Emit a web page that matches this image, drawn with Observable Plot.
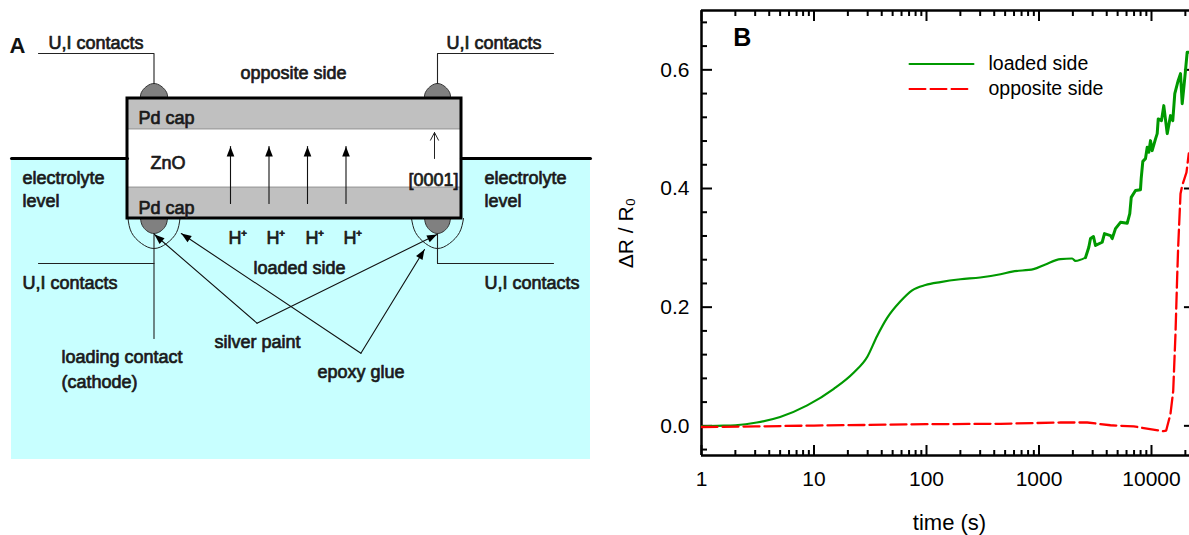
<!DOCTYPE html>
<html><head><meta charset="utf-8">
<script src="https://cdn.jsdelivr.net/npm/d3@7"></script>
<script src="https://cdn.jsdelivr.net/npm/@observablehq/plot@0.6"></script>
<style>
html,body{margin:0;padding:0;background:#fff;overflow:hidden}
#w{display:flex;width:1189px;height:535px}
#w svg{display:block;max-width:none;flex:none}
</style></head><body><div id="w"></div>
<script>
// Panel B series
const loadedT = [1,1.38,2,3.1,5,8.7,15,22.6,29.7,36.4,44.7,58.7,74.6,98,133,200,300,455,578,894,1142,1552,1972,2109,2590,2772,2870,3050,3178,3645,3821,4325,4477,4786,5300,6081,6412,6607,7211,7980,8098,8373,8845,9162,9465,9795,10140,10860,11240,11480,12270,12860,13800,14760,15460,16110,17260,18110,18750,19540,20050,20750,21460];
const loadedDR = [-0.001,0,0.001,0.0056,0.015,0.0345,0.0624,0.09,0.116,0.1515,0.182,0.21,0.2284,0.2373,0.2423,0.247,0.25,0.2555,0.26,0.264,0.272,0.281,0.282,0.278,0.2835,0.301,0.3156,0.319,0.304,0.3094,0.324,0.3206,0.3156,0.3324,0.343,0.3414,0.3577,0.385,0.3965,0.398,0.4167,0.4458,0.4504,0.4694,0.461,0.4807,0.4638,0.4836,0.4925,0.5173,0.5144,0.5397,0.4925,0.5228,0.5144,0.56,0.5818,0.5936,0.543,0.5767,0.5986,0.6295,0.6295];
const oppositeT = [1,3,10,30,100,455,1552,2680,4322,6950,12790,13510,14750,15600,16340,16910,17260,18110,18750,20460,21460];
const oppositeDR = [-0.002,-0.001,0.0005,0.0015,0.0028,0.0034,0.0056,0.0056,0.001,-0.001,-0.009,-0.008,0.02,0.059,0.155,0.25,0.301,0.391,0.405,0.427,0.459];
const xMajor = [1,10,100,1000,10000];
const xMinor = [2,3,4,5,6,7,8,9,20,30,40,50,60,70,80,90,200,300,400,500,600,700,800,900,2000,3000,4000,5000,6000,7000,8000,9000,20000];
const yMajor = [0,0.2,0.4,0.6];
const yMinor = [-0.04,0.04,0.08,0.12,0.16,0.24,0.28,0.32,0.36,0.44,0.48,0.52,0.56,0.64,0.68];
const legendNames = ["loaded side","opposite side"];
const legendX = [[70.6,261.6],[70.6,231]];
const legendY = [0.61,0.5675];

// Panel A schematic (drawing units = reference pixels)
const seaRect = {x1:11,x2:590,y1:158,y2:459};
const capBands = [{x1:127,x2:461,y1:98,y2:129},{x1:127,x2:461,y1:187,y2:218}];
const bodyRect = {x1:127,x2:461,y1:98,y2:218};
const levelLines = [[[11,158],[127,158]],[[461,158],[590,158]]];
const contactCaps = [
 [[140,98],[142,90],[153.5,83],[165,90],[167,98]],
 [[424,98],[426,90],[437,83],[448,90],[450,98]],
 [[140,218],[143,227],[153.5,233],[164,227],[167,218]],
 [[424,218],[427,227],[437,233],[447,227],[450,218]]
];
const epoxyArcs = [
 [[127.5,218],[131,232],[141,243],[153.5,248],[166,243],[176,232],[179.5,218]],
 [[411,218],[415,232],[425,243],[437,248],[449,243],[459,232],[463,218]]
];
const wires = [
 [[38,53],[153.5,53],[153.5,83]],
 [[553,53],[437,53],[437,83]],
 [[38,263],[153.5,263]],
 [[153.5,233],[153.5,338]],
 [[437,233],[437,263],[553,263]]
];
const pointerArrows = [
 [[256.5,322.7],[154,234]],
 [[256.5,322.7],[436.5,234]],
 [[360.4,352.7],[180.8,233]],
 [[360.4,352.7],[424,249]],
 [[230,203],[230,146]],
 [[268.5,203],[268.5,146]],
 [[307,203],[307,146]],
 [[345.5,203],[345.5,146]]
];
const openArrow = [[434,158],[434,132]];
const labelTexts = ["U,I contacts","U,I contacts","opposite side","Pd cap","ZnO","[0001]","electrolyte","level","electrolyte","level","Pd cap","H⁺","H⁺","H⁺","H⁺","loaded side","U,I contacts","U,I contacts","silver paint","loading contact","(cathode)","epoxy glue"];
const labelX = [48,446,240,138,150,408,22,22,484,484,138,228,266,305,343,253,22,484,214,61,61,317];
const labelY = [48,48,78,123,168,185,183,206,183,206,213,243,243,243,243,273,288,288,347,362,387,377];

function head([a,b],len=10,half=3.8){
  const dx=b[0]-a[0],dy=b[1]-a[1],n=Math.hypot(dx,dy),ux=dx/n,uy=dy/n;
  return [b,[b[0]-ux*len-uy*half,b[1]-uy*len+ux*half],[b[0]-ux*len+uy*half,b[1]-uy*len-ux*half]];
}
const tagged = (list)=>list.flatMap((pts,i)=>pts.map(p=>({x:p[0],y:p[1],k:i})));
const font = "'Liberation Sans',Arial,sans-serif";
const dark = "#222";
const labels = labelTexts.map((t,i)=>({t,x:labelX[i],y:labelY[i]}));

const left = Plot.plot({
  width:600,height:535,margin:0,
  x:{domain:[0,600],range:[0,600],axis:null},
  y:{domain:[0,535],range:[0,535],axis:null},
  style:{fontFamily:font,background:"#fff",color:"#000"},
  marks:[
    Plot.rect([seaRect],{x1:"x1",x2:"x2",y1:"y1",y2:"y2",fill:"#C8FFFF"}),
    Plot.line(tagged(contactCaps),{x:"x",y:"y",z:"k",curve:"natural",fill:"#808080",stroke:"#333",strokeWidth:1}),
    Plot.line(tagged(epoxyArcs),{x:"x",y:"y",z:"k",curve:"natural",stroke:dark,strokeWidth:1}),
    Plot.rect([bodyRect],{x1:"x1",x2:"x2",y1:"y1",y2:"y2",fill:"#fff"}),
    Plot.rect(capBands,{x1:"x1",x2:"x2",y1:"y1",y2:"y2",fill:"#C0C0C0",stroke:"#777",strokeWidth:.7}),
    Plot.line(tagged(levelLines),{x:"x",y:"y",z:"k",stroke:"#000",strokeWidth:3}),
    Plot.rect([bodyRect],{x1:"x1",x2:"x2",y1:"y1",y2:"y2",fill:"none",stroke:"#000",strokeWidth:3}),
    Plot.line(tagged(wires),{x:"x",y:"y",z:"k",stroke:dark,strokeWidth:1.1}),
    Plot.line(tagged(pointerArrows),{x:"x",y:"y",z:"k",stroke:"#111",strokeWidth:1.1}),
    Plot.line(tagged(pointerArrows.map(a=>head(a))),{x:"x",y:"y",z:"k",fill:"#000",stroke:"none"}),
    Plot.arrow([openArrow],{x1:d=>d[0][0],y1:d=>d[0][1],x2:d=>d[1][0],y2:d=>d[1][1],stroke:"#222",strokeWidth:1,headLength:13,headAngle:55,insetEnd:0}),
    Plot.text(["A"],{x:[9],y:[52],textAnchor:"start",lineAnchor:"bottom",fontSize:22,fontWeight:"bold",fill:"#111"}),
    Plot.text(labels,{x:"x",y:"y",text:"t",textAnchor:"start",lineAnchor:"bottom",fontSize:18,fill:"#1a1a1a",stroke:"#1a1a1a",strokeWidth:0.7})
  ]
});

const lineOf = (xs,ys)=>xs.map((x,i)=>({x,y:ys[i]}));
const loaded = lineOf(loadedT,loadedDR);
const tickFont = 21;
const right = Plot.plot({
  width:589,height:535,marginLeft:101,marginRight:0,marginTop:10,marginBottom:80,
  x:{type:"log",domain:[1,21770],axis:null},
  y:{domain:[-0.05,0.70],axis:null},
  style:{fontFamily:font,background:"#fff",color:"#000"},
  marks:[
    Plot.ruleY(yMajor,{x1:19630,x2:21770,stroke:"#000",strokeWidth:2}),
    Plot.axisX(xMajor,{anchor:"bottom",tickSize:-10,tickFormat:()=>"",label:null,strokeWidth:2}),
    Plot.axisX(xMinor,{anchor:"bottom",tickSize:-5,tickFormat:()=>"",label:null,strokeWidth:2}),
    Plot.axisX(xMajor,{anchor:"top",tickSize:-10,tickFormat:()=>"",label:null,strokeWidth:2}),
    Plot.axisX(xMinor,{anchor:"top",tickSize:-5,tickFormat:()=>"",label:null,strokeWidth:2}),
    Plot.axisY(yMajor,{anchor:"left",tickSize:-11,tickFormat:()=>"",label:null,strokeWidth:2}),
    Plot.axisY(yMinor,{anchor:"left",tickSize:-6,tickFormat:()=>"",label:null,strokeWidth:2}),
    Plot.axisX(xMajor,{anchor:"bottom",tickSize:0,tickPadding:16,tickFormat:d=>String(d),fontSize:tickFont,label:null,fill:"#000"}),
    Plot.axisY(yMajor,{anchor:"left",tickSize:0,tickPadding:12,tickFormat:d=>d.toFixed(1),fontSize:tickFont,label:null,fill:"#000"}),
    Plot.ruleX([1],{stroke:"#000",strokeWidth:2.5}),
    Plot.ruleY([-0.05,0.70],{stroke:"#000",strokeWidth:2.5}),
    Plot.line(loaded.filter(d=>d.x<=2590),{x:"x",y:"y",stroke:"#009900",strokeWidth:2.2,curve:"monotone-x",clip:true}),
    Plot.line(loaded.filter(d=>d.x>=2590),{x:"x",y:"y",stroke:"#009900",strokeWidth:3,clip:true}),
    Plot.line(lineOf(oppositeT,oppositeDR),{x:"x",y:"y",stroke:"#FF0000",strokeWidth:2.3,strokeDasharray:"16 5",clip:true}),
    Plot.line(lineOf(legendX[0],[legendY[0],legendY[0]]),{x:"x",y:"y",stroke:"#009900",strokeWidth:2}),
    Plot.line(lineOf(legendX[1],[legendY[1],legendY[1]]),{x:"x",y:"y",stroke:"#FF0000",strokeWidth:2,strokeDasharray:"16 5"}),
    Plot.text(legendNames,{x:[355.7,355.7],y:legendY,textAnchor:"start",fontSize:19.5,fill:"#000"}),
    Plot.text(["B"],{x:[1.92],y:[0.653],textAnchor:"start",fontSize:25,fontWeight:"bold",fill:"#000"}),
    Plot.text(["time (s)"],{x:[160],y:[-0.05],dy:67,fontSize:22,fill:"#000"}),
    Plot.text(["ΔR / R₀"],{x:[1],y:[0.325],dx:-75,rotate:-90,fontSize:21,fill:"#000"})
  ]
});
const w=document.getElementById("w");
w.append(left,right);
</script></body></html>
